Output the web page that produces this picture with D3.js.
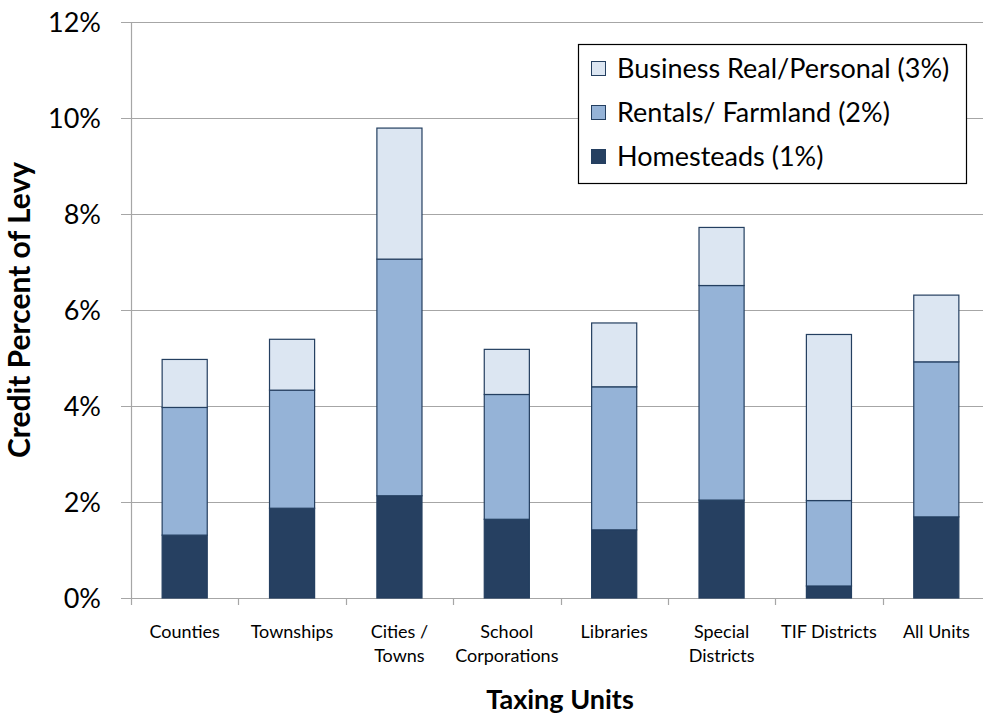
<!DOCTYPE html>
<html>
<head>
<meta charset="utf-8">
<script src="https://cdn.jsdelivr.net/npm/d3@7"></script>
<style>
  body { margin: 0; background: #fff; }
  svg { font-family: Lato, "Open Sans", sans-serif; }
</style>
</head>
<body>
<svg id="chart"></svg>
<script>
// values (segment heights, in %)
const categories = ['Counties', 'Townships', 'Cities / Towns', 'School Corporations',
    'Libraries', 'Special Districts', 'TIF Districts', 'All Units'];
const categoryLines = [['Counties'], ['Townships'], ['Cities /', 'Towns'], ['School', 'Corporations'],
    ['Libraries'], ['Special', 'Districts'], ['TIF Districts'], ['All Units']];
const homesteads = [1.31, 1.87, 2.13, 1.64, 1.42, 2.04, 0.25, 1.69];
const rentals = [2.66, 2.46, 4.93, 2.60, 2.98, 4.47, 1.78, 3.23];
const business = [1.00, 1.06, 2.73, 0.94, 1.33, 1.21, 3.46, 1.39];
const seriesNames = ['Homesteads (1%)', 'Rentals/ Farmland (2%)', 'Business Real/Personal (3%)'];
const yTicks = [0, 2, 4, 6, 8, 10, 12];

const width = 983;
const height = 715;
const margin = { top: 22, right: -7, bottom: 117, left: 131 };
const colors = ['#264061', '#95b3d7', '#dce6f2'];

const rows = categories.map((c, i) => ({ cat: c, h: homesteads[i], r: rentals[i], b: business[i] }));

const svg = d3.select('#chart')
    .attr('width', width)
    .attr('height', height);

const x = d3.scaleBand()
    .domain(categories)
    .range([margin.left, width - margin.right])
    .padding(0);

const y = d3.scaleLinear()
    .domain([0, 12])
    .range([height - margin.bottom, margin.top]);

// gridlines
svg.append('g')
    .selectAll('line')
    .data(yTicks)
    .join('line')
    .attr('x1', margin.left - 10)
    .attr('x2', width)
    .attr('y1', d => Math.round(y(d)) + 0.5)
    .attr('y2', d => Math.round(y(d)) + 0.5)
    .attr('stroke', '#a6a6a6')
    .attr('stroke-width', 1.2);

// y axis line
svg.append('line')
    .attr('x1', margin.left + 0.5).attr('x2', margin.left + 0.5)
    .attr('y1', y(12)).attr('y2', y(0) + 7)
    .attr('stroke', '#a6a6a6').attr('stroke-width', 1.2);

// x ticks between categories
svg.append('g')
    .selectAll('line')
    .data(categories.slice(1))
    .join('line')
    .attr('x1', d => Math.round(x(d)) + 0.5)
    .attr('x2', d => Math.round(x(d)) + 0.5)
    .attr('y1', y(0))
    .attr('y2', y(0) + 7)
    .attr('stroke', '#a6a6a6').attr('stroke-width', 1.2);

// y tick labels
svg.append('g')
    .selectAll('text')
    .data(yTicks)
    .join('text')
    .attr('x', 101)
    .attr('y', d => y(d) + 9.5)
    .attr('text-anchor', 'end')
    .attr('font-size', 27)
    .attr('fill', '#000')
    .text(d => d + '%');

// stacked bars
const stack = d3.stack().keys(['h', 'r', 'b']);
const series = stack(rows);
const barW = x.bandwidth() * 0.42;

svg.append('g')
    .selectAll('g')
    .data(series)
    .join('g')
    .attr('fill', (d, i) => colors[i])
    .selectAll('rect')
    .data(d => d)
    .join('rect')
    .attr('x', d => x(d.data.cat) + (x.bandwidth() - barW) / 2)
    .attr('y', d => y(d[1]))
    .attr('width', barW)
    .attr('height', d => y(d[0]) - y(d[1]))
    .attr('stroke', '#243f60')
    .attr('stroke-width', 1.2);

// category labels
const catLabels = svg.append('g')
    .selectAll('text')
    .data(categoryLines)
    .join('text')
    .attr('text-anchor', 'middle')
    .attr('font-size', 18)
    .attr('fill', '#000');

catLabels.selectAll('tspan')
    .data((d, i) => d.map(line => ({ line, cat: categories[i] })))
    .join('tspan')
    .attr('x', d => x(d.cat) + x.bandwidth() / 2)
    .attr('y', (d, j) => 638 + j * 24)
    .text(d => d.line);

// axis titles
svg.append('text')
    .attr('x', 560)
    .attr('y', 709)
    .attr('text-anchor', 'middle')
    .attr('font-size', 27)
    .attr('font-weight', 'bold')
    .text('Taxing Units');

svg.append('text')
    .attr('transform', 'translate(30,310) rotate(-90)')
    .attr('text-anchor', 'middle')
    .attr('font-size', 30)
    .attr('font-weight', 'bold')
    .text('Credit Percent of Levy');

// legend
const legend = svg.append('g');
legend.append('rect')
    .attr('x', 578.5).attr('y', 44.5)
    .attr('width', 388).attr('height', 139)
    .attr('fill', '#fff')
    .attr('stroke', '#000')
    .attr('stroke-width', 1.2);

const legendItems = legend.selectAll('g.item')
    .data([2, 1, 0])
    .join('g')
    .attr('class', 'item')
    .attr('transform', (d, i) => `translate(591.5,${61.5 + i * 44})`);

legendItems.append('rect')
    .attr('width', 14).attr('height', 14)
    .attr('fill', d => colors[d])
    .attr('stroke', '#243f60')
    .attr('stroke-width', 1);

legendItems.append('text')
    .attr('x', 25.5)
    .attr('y', 16.5)
    .attr('font-size', 27)
    .text(d => seriesNames[d]);
</script>
</body>
</html>
